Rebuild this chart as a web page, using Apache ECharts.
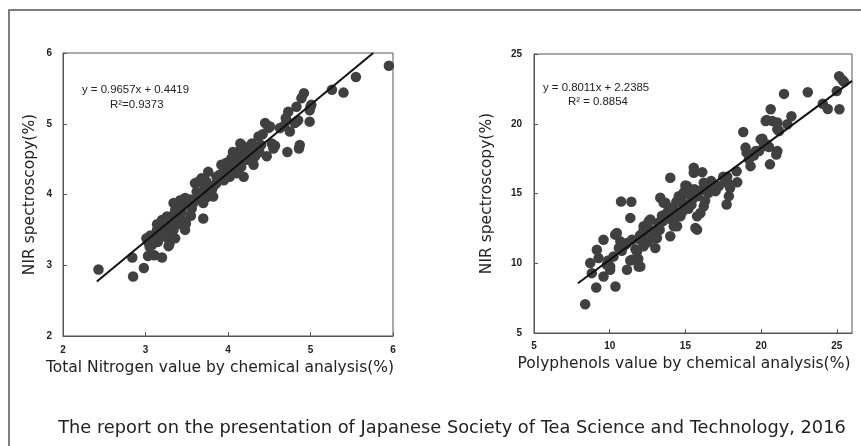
<!DOCTYPE html>
<html><head><meta charset="utf-8">
<script src="https://cdn.jsdelivr.net/npm/echarts@6/dist/echarts.min.js"></script>
<style>html,body{margin:0;padding:0;background:#fff}#c{width:861px;height:446px}</style>
</head><body><div id="c"></div>
<script>
// ---- Data ----
const nitrogenPoints = [
 [2.43,2.94],[2.84,3.11],[2.85,2.84],[2.98,2.96],[3.03,3.13],[3.11,3.14],[3.20,3.11],
 [3.01,3.38],[3.03,3.33],[3.05,3.26],[3.08,3.29],[3.10,3.36],[3.06,3.42],[3.12,3.40],
 [3.28,3.27],[3.29,3.30],[3.36,3.38],[3.32,3.41],[3.16,3.52],[3.22,3.45],[3.18,3.47],
 [3.14,3.58],[3.20,3.64],[3.26,3.62],[3.24,3.55],[3.30,3.50],[3.34,3.71],[3.30,3.66],
 [3.38,3.58],[3.48,3.62],[3.48,3.50],[3.46,3.56],[3.49,3.59],[3.40,3.83],[3.36,3.78],
 [3.44,3.75],[3.48,3.88],[3.52,3.86],[3.56,3.80],[3.60,3.92],[3.54,3.93],[3.70,3.66],
 [3.62,4.04],[3.60,4.16],[3.64,4.18],[3.68,4.23],[3.76,4.32],[3.68,4.01],[3.80,4.06],
 [3.86,4.16],[3.88,4.25],[3.92,4.42],[4.00,4.35],[4.04,4.51],[3.70,3.88],[3.74,3.96],
 [3.82,3.97],[3.78,4.04],[3.82,4.11],[3.74,4.18],[3.90,4.28],[3.96,4.35],[4.02,4.25],
 [4.06,4.39],[4.08,4.49],[4.16,4.39],[4.12,4.45],[4.23,4.49],[4.31,4.42],[4.19,4.25],
 [4.15,4.63],[4.19,4.68],[4.27,4.63],[4.33,4.65],[4.33,4.54],[4.47,4.54],[4.12,4.60],
 [4.22,4.56],[4.29,4.72],[4.37,4.82],[4.42,4.85],[4.45,5.01],[4.49,4.94],[4.51,4.96],
 [4.53,4.72],[4.55,4.65],[4.57,4.69],[4.63,4.94],[4.68,4.97],[4.75,4.89],[4.71,5.05],
 [4.73,5.17],[4.70,5.08],[4.72,4.60],[4.83,5.03],[4.81,5.01],[4.85,5.05],[4.83,5.24],
 [4.87,4.70],[4.86,4.65],[4.89,5.36],[4.92,5.43],[4.99,5.03],[4.99,5.19],[5.01,5.27],
 [5.00,5.24],[5.26,5.48],[5.40,5.44],[5.55,5.66],[5.95,5.82],
 [4.06,4.60],[4.15,4.72],[3.48,3.95],[3.42,3.92],[3.34,3.88],[3.26,3.69],[3.21,3.64],
 [3.14,3.50],[3.34,3.50],[3.38,3.64],[4.00,4.38],[3.86,4.25],[3.80,4.06],
 [3.15,3.33],[3.25,3.40],[3.32,3.58],[3.42,3.68],[3.55,3.70],[3.58,3.88],[3.66,3.95],
 [3.72,4.10],[3.95,4.20],[4.10,4.30],[4.14,4.52],[4.26,4.50],[4.38,4.60],[4.40,4.70],
 [4.25,4.58],[3.98,4.45],[4.05,4.42]
];
const nitrogenFit = [[2.41,2.77],[5.76,6.0]];
const nitrogenXTicks = [2,3,4,5,6];
const nitrogenYTicks = [2,3,4,5,6];

const polyPoints = [
 [8.38,7.06],[9.11,8.26],[10.38,8.33],[8.71,10.01],[8.82,9.29],[9.15,10.97],[9.59,11.69],
 [9.59,9.05],[9.26,10.37],[9.81,9.89],[10.03,9.53],[10.03,9.77],[10.25,10.49],[10.47,12.17],
 [10.36,12.05],[10.75,14.43],[11.43,14.41],[11.36,13.25],[10.70,11.57],[11.03,11.33],
 [11.14,11.45],[11.14,9.53],[11.91,9.77],[12.02,9.77],[11.36,10.2],[11.47,10.25],[11.89,10.3],
 [11.80,10.85],[11.47,11.69],[12.02,11.69],[12.24,11.21],[12.24,12.17],[12.24,12.41],
 [12.57,13.0],[12.68,13.13],[12.24,12.65],[12.68,12.41],[13.01,11.09],[13.12,11.81],
 [13.34,14.69],[13.56,14.33],[13.68,14.33],[14.0,16.13],[13.78,13.61],[13.45,13.4],
 [14.0,11.93],[14.23,12.65],[14.45,12.65],[14.34,13.25],[14.67,13.61],[14.67,13.37],
 [14.56,14.81],[14.78,14.81],[15.0,14.21],[15.11,15.53],[15.44,14.57],[15.66,12.53],
 [15.77,12.41],[15.55,16.49],[15.55,16.85],[16.11,16.53],[15.77,13.37],[15.99,13.6],
 [16.21,15.77],[16.3,14.5],[16.21,14.09],[16.54,15.05],[16.44,15.29],[16.66,15.77],
 [16.99,15.17],[17.21,15.53],[15.0,15.58],[17.65,16.01],[17.72,14.21],[17.87,14.81],
 [17.95,15.4],[17.76,16.2],[17.5,16.2],[17.83,15.7],[18.42,15.81],[18.38,16.60],
 [18.82,19.41],[18.97,18.29],[19.04,17.93],[19.30,16.96],[19.19,17.45],[19.52,17.73],
 [19.64,18.04],[19.86,18.04],[19.97,18.88],[20.08,18.93],[20.19,18.40],[20.36,18.53],
 [20.52,18.33],[20.30,20.20],[20.36,20.27],[20.63,21.04],[20.58,17.09],[20.74,20.20],
 [21.07,19.60],[21.18,19.48],[21.07,18.04],[21.0,17.8],[21.07,20.09],[21.51,22.14],
 [21.73,19.96],[22.0,20.54],[23.08,22.26],[24.07,21.43],[24.40,21.06],[25.17,21.04],
 [24.99,22.34],[25.15,23.40],[25.37,23.14],[25.48,23.0],
 [12.9,12.3],[13.2,12.9],[13.5,13.0],[13.9,13.9],[14.1,13.1],[14.9,14.0],[15.2,13.9],
 [15.3,14.9],[15.8,14.8],[16.0,15.2],[16.7,15.9],[12.5,11.5],[11.7,11.0],[10.8,10.9],
 [9.9,10.2],[10.6,11.1],[12.0,12.0],[14.4,14.4],[14.9,15.1],
 [13.0,12.0],[13.3,12.4],[14.8,13.7],[15.4,14.2],[15.6,15.3],[16.4,15.6],[14.2,14.0],[12.8,11.8]
];
const polyFit = [[7.9,8.57],[26,23.07]];
const polyXTicks = [5,10,15,20,25];
const polyYTicks = [5,10,15,20,25];
const polyXMax = 26;

const nitrogenEquation = 'y = 0.9657x + 0.4419';
const nitrogenR2 = 'R\u00B2=0.9373';
const polyEquation = 'y = 0.8011x + 2.2385';
const polyR2 = 'R\u00B2 = 0.8854';
const footerText = 'The report on the presentation of Japanese Society of Tea Science and Technology, 2016';

// ---- Chart ----
const chart = echarts.init(document.getElementById('c'), null, {renderer: 'canvas'});
const tickLabel = {color: '#222', fontFamily: 'Liberation Sans, Arial, sans-serif', fontWeight: 'bold', fontSize: 10};
const nameStyle = {color: '#222', fontFamily: 'DejaVu Sans, Verdana, sans-serif', fontSize: 15.5};
const dotColor = '#404040';

function xAxis(grid, ticks, max, name, labelMargin, namePad, nameGap) {
  return {
    type: 'value', gridIndex: grid, min: ticks[0], max: max,
    interval: ticks[1] - ticks[0],
    name: name, nameLocation: 'middle', nameGap: nameGap,
    nameTextStyle: Object.assign({padding: namePad}, nameStyle),
    axisLine: {show: true, lineStyle: {color: '#555', width: 1}},
    axisTick: {show: true, inside: true, length: 4, lineStyle: {color: '#555'}},
    axisLabel: Object.assign({margin: labelMargin, showMaxLabel: max === ticks[ticks.length - 1]}, tickLabel),
    splitLine: {show: false}
  };
}
function yAxis(grid, ticks, name, labelMargin, nameGap) {
  return {
    type: 'value', gridIndex: grid, min: ticks[0], max: ticks[ticks.length - 1],
    interval: ticks[1] - ticks[0],
    name: name, nameLocation: 'middle', nameGap: nameGap, nameTextStyle: nameStyle,
    axisLine: {show: true, lineStyle: {color: '#555', width: 1}},
    axisTick: {show: true, inside: true, length: 4, lineStyle: {color: '#555'}},
    axisLabel: Object.assign({margin: labelMargin}, tickLabel),
    splitLine: {show: false}
  };
}

const eqFont = '11.4px "Liberation Sans Narrow", "Liberation Sans", Arial, sans-serif';
chart.setOption({
  animation: false,
  backgroundColor: '#fff',
  grid: [
    {left: 63, top: 53, width: 330, height: 283, show: true, borderColor: '#555', borderWidth: 1, backgroundColor: '#fff'},
    {left: 534, top: 54, width: 318, height: 279, show: true, borderColor: '#555', borderWidth: 1, backgroundColor: '#fff'}
  ],
  xAxis: [
    xAxis(0, nitrogenXTicks, nitrogenXTicks[nitrogenXTicks.length - 1], 'Total Nitrogen value by chemical analysis(%)', 9, [0, 16, 0, 0], 21),
    xAxis(1, polyXTicks, polyXMax, 'Polyphenols value by chemical analysis(%)', 8, [0, 18, 0, 0], 23)
  ],
  yAxis: [
    yAxis(0, nitrogenYTicks, 'NIR spectroscopy(%)', 11, 25),
    yAxis(1, polyYTicks, 'NIR spectroscopy(%)', 12, 39)
  ],
  series: [
    {type: 'scatter', xAxisIndex: 0, yAxisIndex: 0, data: nitrogenPoints, symbolSize: 10.5, itemStyle: {color: dotColor, opacity: 1}, z: 2},
    {type: 'line', xAxisIndex: 0, yAxisIndex: 0, data: nitrogenFit, symbol: 'none', lineStyle: {color: '#111', width: 2}, z: 3},
    {type: 'scatter', xAxisIndex: 1, yAxisIndex: 1, data: polyPoints, symbolSize: 10.5, itemStyle: {color: dotColor, opacity: 1}, z: 2},
    {type: 'line', xAxisIndex: 1, yAxisIndex: 1, data: polyFit, symbol: 'none', lineStyle: {color: '#111', width: 2}, z: 3}
  ],
  graphic: [
    {type: 'rect', shape: {x: 9, y: 10, width: 900, height: 500}, style: {fill: 'none', stroke: '#555', lineWidth: 1.5}, z: -10, silent: true},
    {type: 'text', left: 82, top: 84, style: {text: nitrogenEquation, font: eqFont, fill: '#222'}, z: 10},
    {type: 'text', left: 110, top: 99, style: {text: nitrogenR2, font: eqFont, fill: '#222'}, z: 10},
    {type: 'text', left: 543, top: 82, style: {text: polyEquation, font: eqFont, fill: '#222'}, z: 10},
    {type: 'text', left: 568, top: 96, style: {text: polyR2, font: eqFont, fill: '#222'}, z: 10},
    {type: 'text', x: 452, y: 428, style: {text: footerText, font: '17.8px "DejaVu Sans", Verdana, sans-serif', fill: '#222', textAlign: 'center', textVerticalAlign: 'middle'}, z: 10}
  ]
});
</script></body></html>
